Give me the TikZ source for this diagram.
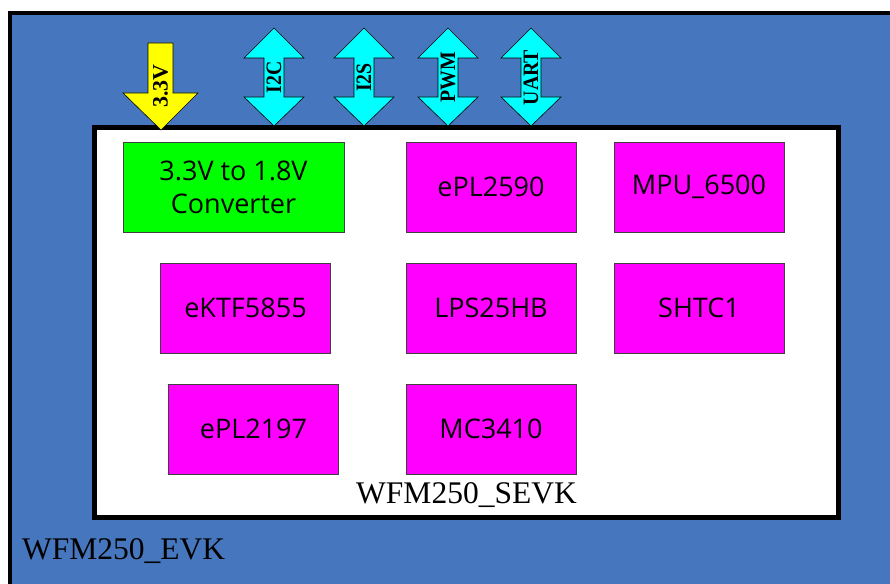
\documentclass[tikz,border=0pt]{standalone}
\usepackage{fontspec}
\usepackage{graphicx}
\setmainfont{Liberation Serif}
\newfontfamily\boxfont{Open Sans}
\definecolor{evkblue}{RGB}{70,119,190}
\definecolor{chipmag}{RGB}{255,0,255}
\definecolor{convgreen}{RGB}{0,255,0}
\definecolor{buscyan}{RGB}{0,255,255}
\definecolor{pwryellow}{RGB}{255,255,0}
\newcommand{\squeezetext}[1]{\scalebox{0.9}[1]{#1}}
\tikzset{
  chipbox/.style={draw=black!75, line width=0.8pt, fill=chipmag, minimum width=170, minimum height=90,
    inner sep=0pt, align=center, font=\boxfont\fontsize{27}{33}\selectfont},
  buslabel/.style={rotate=90, inner sep=0pt, font=\bfseries\fontsize{22}{22}\selectfont},
  busarrow/.style={draw=black, line width=0.6pt, fill=buscyan},
  boardlabel/.style={inner sep=0pt, font=\fontsize{31.5}{32}\selectfont}
}
\begin{document}
\begin{tikzpicture}[x=1pt,y=-1pt]
\useasboundingbox (0,0) rectangle (890,583);
\begin{scope}
\clip (0,0) rectangle (890,583);
\fill[evkblue] (10,13) rectangle (900,600);
\draw[line width=4pt] (10,600) -- (10,13) -- (900,13);
\end{scope}
% inner board
\draw[line width=5pt, fill=white] (94.5,127.5) rectangle (838.5,517.5);
% power arrow
\draw[draw=black, line width=0.6pt, fill=pwryellow] (148,43) -- (173,43) -- (173,93) -- (198,93) -- (161,130) -- (123,93) -- (148,93) -- cycle;
\node[buslabel] (v33) at (160.5,86) {3.3V};
% bus arrows
\foreach \c/\n/\t in {274/i2c/I2C, 364/i2s/I2S, 448/pwm/PWM, 531/uart/UART}{
  \draw[busarrow] (\c,28) -- (\c+30,58) -- (\c+10,58) -- (\c+10,97) -- (\c+30,97) -- (\c,126)
     -- (\c-30,97) -- (\c-10,97) -- (\c-10,58) -- (\c-30,58) -- cycle;
  \node[buslabel] (\n) at (\c,77.5) {\squeezetext{\t}};
}
% blocks
\node[chipbox, fill=convgreen, minimum width=221] (conv) at (233.5,187) {3.3V to 1.8V\\Converter};
\node[chipbox] (epl2590) at (491,187) {ePL2590};
\node[chipbox] (mpu) at (699,187) {MPU\_6500};
\node[chipbox] (ektf) at (245.5,308) {eKTF5855};
\node[chipbox] (lps) at (491,308) {LPS25HB};
\node[chipbox] (shtc) at (699,308) {SHTC1};
\node[chipbox] (epl2197) at (253.5,429) {ePL2197};
\node[chipbox] (mc) at (491,429) {MC3410};
% labels
\node[boardlabel, anchor=base] (sevk) at (466.5,503) {WFM250\_SEVK};
\node[boardlabel, anchor=base west] (evk) at (22,559) {WFM250\_EVK};
\end{tikzpicture}
\end{document}
